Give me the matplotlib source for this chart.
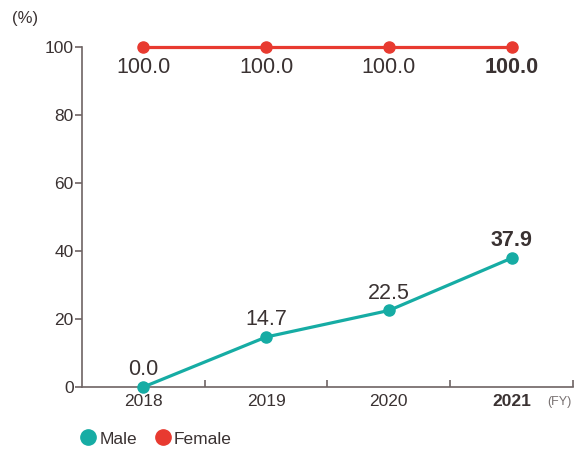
import matplotlib
matplotlib.use("Agg")
import matplotlib.pyplot as plt
from matplotlib.lines import Line2D

# data
years = ["2018", "2019", "2020", "2021"]
male = [0.0, 14.7, 22.5, 37.9]
female = [100.0, 100.0, 100.0, 100.0]
y_ticks = [0, 20, 40, 60, 80, 100]

teal = "#16aca4"
red = "#e83a30"
axis_c = "#6e6464"
text_c = "#3a3232"

plt.rcParams['font.family'] = ['Liberation Sans', 'DejaVu Sans']

fig = plt.figure(figsize=(5.79, 4.5), dpi=100)
ax = fig.add_axes([0.1416, 0.14, 0.848, 0.7556])

x = list(range(len(years)))
ax.plot(x, female, color=red, lw=2.3, marker="o", ms=8, zorder=3, clip_on=False)
ax.plot(x, male, color=teal, lw=2.3, marker="o", ms=8, zorder=3, clip_on=False)

# value labels, last year in bold
for i, v in enumerate(female):
    ax.annotate(f"{v:.1f}", (i, v), xytext=(0, -15), textcoords="offset points",
                ha="center", va="center", fontsize=15.5, color=text_c,
                fontweight="bold" if i == len(years) - 1 else "normal")
for i, v in enumerate(male):
    ax.annotate(f"{v:.1f}", (i, v), xytext=(0, 12.5), textcoords="offset points",
                ha="center", va="center", fontsize=15.5, color=text_c,
                fontweight="bold" if i == len(years) - 1 else "normal")

ax.set_xlim(-0.5, len(years) - 0.5)
ax.set_ylim(0, 100)

ax.spines["top"].set_visible(False)
ax.spines["right"].set_visible(False)
for s in ("left", "bottom"):
    ax.spines[s].set_color(axis_c)
    ax.spines[s].set_linewidth(1.2)

ax.set_yticks(y_ticks)
ax.set_yticklabels([str(t) for t in y_ticks])
ax.tick_params(axis="y", direction="out", length=5, width=1.2, color=axis_c,
               labelsize=12.5, labelcolor=text_c, pad=1)

# ticks between categories on the x axis, labels at the centers
ax.set_xticks([i + 0.5 for i in x], minor=False)
ax.set_xticklabels([])
ax.tick_params(axis="x", which="major", direction="in", length=5, width=1.2, color=axis_c)
ax.set_xticks(x, minor=True)
ax.set_xticklabels(years, minor=True)
ax.tick_params(axis="x", which="minor", length=0, labelsize=12.5, labelcolor=text_c, pad=5)
for lbl in ax.get_xticklabels(minor=True):
    if lbl.get_text() == years[-1]:
        lbl.set_fontweight("bold")

fig.text(12 / 579, 1 - 18 / 450, "(%)", fontsize=12, color=text_c, va="center", ha="left")
fig.text(559 / 579, 1 - 402 / 450, "(FY)", fontsize=9, color="#777070", va="center", ha="center")

handles = [Line2D([], [], ls="", marker="o", ms=11, color=teal, label="Male"),
           Line2D([], [], ls="", marker="o", ms=11, color=red, label="Female")]
fig.legend(handles=handles, loc="center left", bbox_to_anchor=(72 / 579, 1 - 439 / 450),
           frameon=False, fontsize=12.5, handletextpad=0.1, columnspacing=0.9, ncol=2,
           handlelength=1.1, labelcolor=text_c, borderaxespad=0)

fig.savefig("out.png", dpi=100)
